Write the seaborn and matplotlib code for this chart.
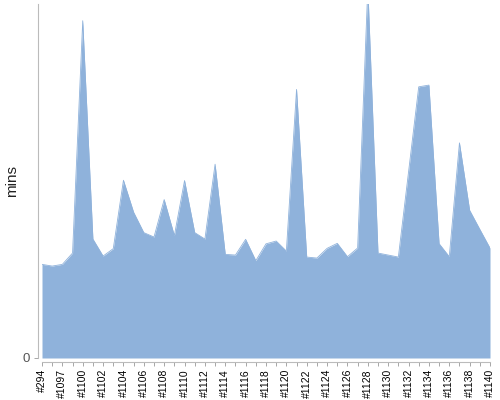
import matplotlib
matplotlib.use("Agg")
import matplotlib.pyplot as plt
import seaborn as sns
import pandas as pd

builds = ["#294", "#1096", "#1097", "#1098"] + ["#%d" % n for n in range(1100, 1141)]
mins = [9.35, 9.18, 9.35, 10.48, 33.68, 11.88, 10.18, 10.92, 17.75, 14.55,
        12.52, 12.08, 15.82, 12.22, 17.72, 12.52, 11.88, 19.35, 10.35, 10.28,
        11.85, 9.72, 11.40, 11.68, 10.68, 26.82, 10.08, 9.98, 10.95, 11.45,
        10.12, 10.98, 37.00, 10.48, 10.28, 10.08, 18.58, 27.08, 27.25, 11.42,
        10.12, 21.48, 14.75, 12.85, 10.98]

df = pd.DataFrame({"build": builds, "mins": mins})
df["pos"] = range(len(df))

sns.set_theme(style="white")
plt.rcParams["font.family"] = ["Liberation Sans", "DejaVu Sans"]

fig = plt.figure(figsize=(5, 4), dpi=100)
ax = fig.add_axes([0.084, 0.105, 0.896, 0.885])

color = "#8fb2db"
ax.fill_between(df["pos"], 0, df["mins"], color=color, linewidth=0)
sns.lineplot(data=df, x="pos", y="mins", ax=ax, color=color, linewidth=0.6)

sns.despine(ax=ax, offset=3)
for s in ("left", "bottom"):
    ax.spines[s].set_color("#bbbbbb")
    ax.spines[s].set_linewidth(0.8)

ax.set_xlim(0, len(df) - 1)
ax.set_ylim(0, 35.35)
ax.set_xticks(df["pos"])
ax.set_xticklabels([b if i % 2 == 0 else "" for i, b in enumerate(builds)],
                   rotation=90, fontsize=7.5, color="black")
ax.set_yticks([0])
ax.set_yticklabels(["0"], fontsize=9.5, color="#555555")
ax.set_xlabel("")
ax.set_ylabel("mins", fontsize=11, color="#222222")
ax.yaxis.set_label_coords(-0.052, 0.5)

ax.tick_params(axis="x", which="both", bottom=True, length=3, width=0.6,
               color="#999999", pad=2)
ax.tick_params(axis="y", left=True, length=3, width=0.6, color="#999999", pad=3)

fig.savefig("out.png", dpi=100)
